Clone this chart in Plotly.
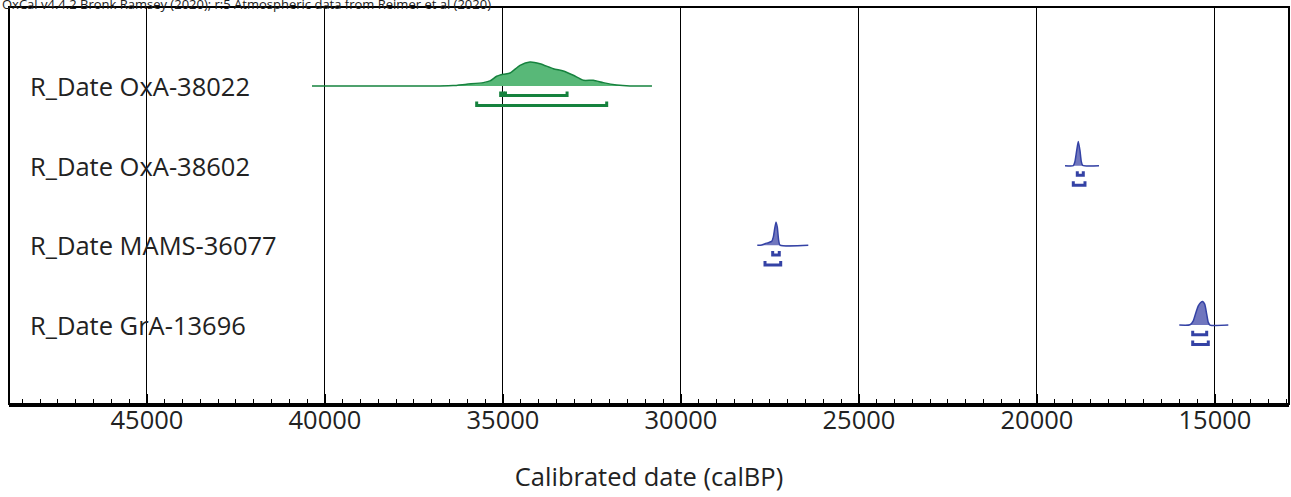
import plotly.graph_objects as go

# ---- data ----
sample_labels = ["R_Date OxA-38022", "R_Date OxA-38602", "R_Date MAMS-36077", "R_Date GrA-13696"]
row_positions = [4, 3, 2, 1]

# calibrated probability curves (calBP, relative height)
oxa38022_dates = [40365, 36770, 36404, 36020, 35553, 35365, 35178, 34991, 34803, 34522, 34242,
                  33961, 33587, 33306, 33025, 32744, 32463, 32182, 31808, 31433, 30815]
oxa38022_prob = [0, 0, 0.3, 1.7, 3.3, 5, 9.7, 11.7, 13, 20.7, 24, 22.3, 17.3, 15, 10.7, 5.7, 5.7,
                 3.3, 1, 0, 0]

oxa38602_dates = [19213, 18980, 18933, 18885, 18840, 18792, 18756, 18716, 18258]
oxa38602_prob = [0, 0, 4.3, 15, 24.3, 15, 4.3, 0.3, 0]

mams36077_dates = [27857, 27733, 27640, 27548, 27452, 27407, 27368, 27331, 27295, 27256, 27219, 26424]
mams36077_prob = [0, 0.3, 1.7, 2.7, 4, 8.3, 16.7, 23.3, 18.3, 5, 0.3, 0]

gra13696_dates = [16003, 15702, 15610, 15534, 15469, 15402, 15346, 15289, 15233, 15188, 15140, 14626]
gra13696_prob = [0, 0.3, 4.3, 12.7, 19.3, 22.7, 23.7, 21, 11, 2.7, 0, 0]

# 68.3% and 95.4% ranges (calBP)
range68 = [[(35065, 34990), (34930, 33200)], [(18868, 18699)], [(27424, 27239)], [(15626, 15233)]]
range95 = [[(35739, 32087)], [(18980, 18652)], [(27640, 27199)], [(15626, 15188)]]

x_ticks = [45000, 40000, 35000, 30000, 25000, 20000, 15000]

# ---- style ----
GREEN_FILL = "rgb(88,184,120)"
GREEN_LINE = "rgb(22,130,62)"
BLUE_FILL = "rgb(112,118,190)"
BLUE_LINE = "rgb(52,66,165)"
row_fill = [GREEN_FILL, BLUE_FILL, BLUE_FILL, BLUE_FILL]
row_line = [GREEN_LINE, BLUE_LINE, BLUE_LINE, BLUE_LINE]
SCALE = 1 / 80.0  # px height -> row units
OFF68, OFF95, HOOK = 0.12, 0.245, 0.05
FONT = "Open Sans"
TXT = "#222222"

curves = [(oxa38022_dates, oxa38022_prob), (oxa38602_dates, oxa38602_prob),
          (mams36077_dates, mams36077_prob), (gra13696_dates, gra13696_prob)]

fig = go.Figure()

for i, (dates, prob) in enumerate(curves):
    base = row_positions[i]
    ys = [base + p * SCALE for p in prob]
    fig.add_trace(go.Scatter(x=dates, y=ys, mode="lines", fill="toself",
                             fillcolor=row_fill[i],
                             line=dict(color=row_line[i], width=1.5, shape="spline", smoothing=0.6),
                             hoverinfo="skip", showlegend=False))
    for ranges, off in ((range68[i], OFF68), (range95[i], OFF95)):
        bx, by = [], []
        for a, b in ranges:
            bx += [a, a, b, b, None]
            by += [base - off + HOOK, base - off, base - off, base - off + HOOK, None]
        fig.add_trace(go.Scatter(x=bx, y=by, mode="lines",
                                 line=dict(color=row_line[i], width=3),
                                 hoverinfo="skip", showlegend=False))

W, H = 1291, 497
ML, MR, MT, MB = 9, 2, 7, 93
pw = W - ML - MR

annotations = []
for lab, pos in zip(sample_labels, row_positions):
    annotations.append(dict(text=lab, x=19 / pw, xref="paper", y=pos, yref="y",
                            xanchor="left", yanchor="middle", showarrow=False,
                            font=dict(size=25.5, color=TXT, family=FONT)))
annotations.append(dict(text="OxCal v4.4.2 Bronk Ramsey (2020); r:5 Atmospheric data from Reimer et al (2020)",
                        x=-ML / pw, xref="paper", y=1 + 7.5 / 397, yref="paper",
                        xanchor="left", yanchor="top", yshift=7, showarrow=False,
                        font=dict(size=13, color=TXT, family=FONT)))

fig.update_layout(
    width=W, height=H,
    margin=dict(l=ML, r=MR, t=MT, b=MB),
    paper_bgcolor="white", plot_bgcolor="white",
    annotations=annotations,
    shapes=[dict(type="rect", xref="paper", yref="paper", x0=0, x1=1, y0=0, y1=1,
                 line=dict(color="black", width=2), layer="above")],
    xaxis=dict(range=[48876, 12921], tickvals=x_ticks, ticktext=[str(v) for v in x_ticks],
               showgrid=True, gridcolor="black", gridwidth=1,
               ticks="inside", ticklen=10, tickwidth=2, tickcolor="black",
               minor=dict(dtick=500, tick0=0, ticks="inside", ticklen=5, tickwidth=1,
                          tickcolor="black", showgrid=False),
               showline=True, linecolor="black", linewidth=3, zeroline=False,
               ticklabelstandoff=-9,
               tickfont=dict(size=25.5, color=TXT, family=FONT),
               title=dict(text="Calibrated date (calBP)", standoff=34,
                          font=dict(size=25.5, color=TXT, family=FONT))),
    yaxis=dict(range=[0.01, 4.99], showgrid=False, showticklabels=False, ticks="",
               zeroline=False, showline=False),
)

fig.write_html("out.html", config={"displayModeBar": False},
               post_script="document.body.style.margin='0';document.body.style.overflow='hidden';")
